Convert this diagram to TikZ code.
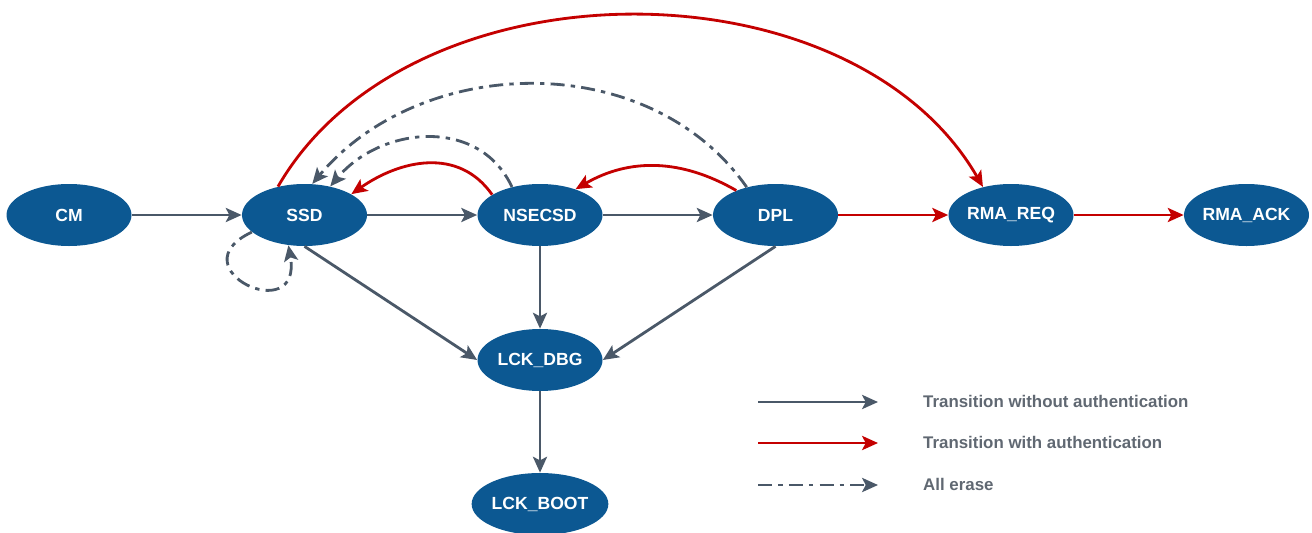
\documentclass[tikz,border=0pt]{standalone}
\usepackage{fontspec}
\setmainfont{Liberation Sans}
\usetikzlibrary{shapes.geometric, arrows.meta}
\definecolor{stateblue}{RGB}{12,88,146}
\definecolor{linegray}{RGB}{74,88,104}
\definecolor{authred}{RGB}{196,0,0}
\definecolor{legendgray}{RGB}{96,104,114}

\begin{document}
\begin{tikzpicture}[node distance=4.71cm, auto,
  state/.style={ellipse, fill=stateblue, text=white, font=\fontsize{10}{12}\selectfont\bfseries, minimum width=2.5cm, minimum height=1.24cm, inner sep=0pt},
  legend/.style={anchor=west, text=legendgray, font=\fontsize{9.6}{11}\selectfont\bfseries},
  plain/.style={line width=1.6pt, draw=linegray, -{Stealth[length=9pt, width=8pt, inset=2pt]}},
  auth/.style={plain, draw=authred},
  erase/.style={plain, dash pattern=on 8pt off 3.5pt on 2.5pt off 3.5pt}
]
\useasboundingbox (0,0) rectangle (26.24,10.64);

\node (cm) [state] at (1.38,6.34) {CM};
\node (ssd) [state, right of=cm] {SSD};
\node (nsecsd) [state, right of=ssd] {NSECSD};
\node (dpl) [state, right of=nsecsd] {DPL};
\node (rmareq) [state, right of=dpl] {RMA\_REQ};
\node (rmaack) [state, right of=rmareq] {RMA\_ACK};
\node (lckdbg) [state, below of=nsecsd, node distance=2.9cm] {LCK\_DBG};
\node (lckboot) [state, below of=lckdbg, node distance=2.88cm] {LCK\_BOOT};

\draw [plain] (cm) -- (ssd);
\draw [plain] (ssd) -- (nsecsd);
\draw [plain] (nsecsd) -- (dpl);
\draw [auth] (dpl) -- (rmareq);
\draw [auth] (rmareq) -- (rmaack);
\draw [plain] (ssd.south) -- (lckdbg.west);
\draw [plain] (nsecsd) -- (lckdbg);
\draw [plain] (dpl.south) -- (lckdbg.east);
\draw [plain] (lckdbg) -- (lckboot);

% transitions back and over the top
\draw [auth] (ssd.133) to[out=60, in=120, looseness=0.96] (rmareq.135);
\draw [auth] (nsecsd.157) to[out=125, in=35, looseness=1.07] (ssd.24);
\draw [auth] (dpl.148) to[out=150, in=30] (nsecsd.36);
\draw [erase] (dpl.136) to[out=125, in=50] (ssd.76);
\draw [erase] (nsecsd.135) to[out=115, in=50, looseness=1.1] (ssd.48);
\draw [erase] (ssd.198) .. controls +(205:1.7) and +(-80:1.7) .. (ssd.242);

% legend
\coordinate (l1s) at (15.16,2.6);
\coordinate (l1e) at (17.56,2.6);
\coordinate (l2s) at (15.16,1.78);
\coordinate (l2e) at (17.56,1.78);
\coordinate (l3s) at (15.16,0.94);
\coordinate (l3e) at (17.56,0.94);
\node (t1) [legend] at (18.34,2.62) {Transition without authentication};
\node (t2) [legend] at (18.34,1.8) {Transition with authentication};
\node (t3) [legend] at (18.34,0.96) {All erase};
\draw [plain] (l1s) -- (l1e);
\draw [auth] (l2s) -- (l2e);
\draw [erase] (l3s) -- (l3e);

\end{tikzpicture}
\end{document}
